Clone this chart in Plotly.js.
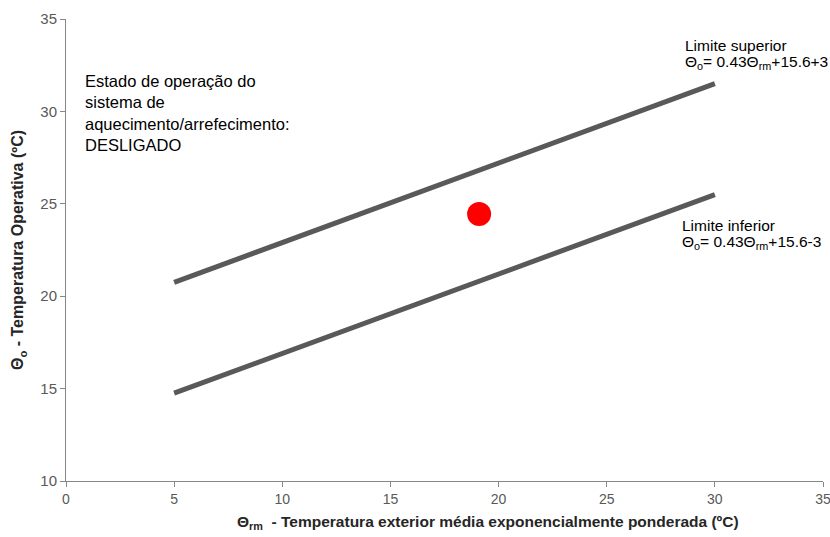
<!DOCTYPE html>
<html><head><meta charset="utf-8">
<script src="https://cdn.plot.ly/plotly-3.0.1.min.js"></script>
<style>body{margin:0;background:#fff}#c{width:830px;height:537px}</style>
</head><body><div id="c"></div>
<script>
const xLine = [5, 10, 15, 20, 25, 30];
const upperLimit = [20.75, 22.9, 25.05, 27.2, 29.35, 31.5];
const lowerLimit = [14.75, 16.9, 19.05, 21.2, 23.35, 25.5];
const pointX = [19.1];
const pointY = [24.45];
const xTicks = [0, 5, 10, 15, 20, 25, 30, 35];
const yTicks = [10, 15, 20, 25, 30, 35];

const font = "Liberation Sans, Arial, sans-serif";
const traces = [
  {x: xLine, y: upperLimit, mode: 'lines', line: {color: '#595959', width: 5}, hoverinfo: 'skip'},
  {x: xLine, y: lowerLimit, mode: 'lines', line: {color: '#595959', width: 5}, hoverinfo: 'skip'},
  {x: pointX, y: pointY, mode: 'markers', marker: {color: '#ff0000', size: 24}}
];
const ann = (x, y, text, size) => ({xref: 'paper', yref: 'paper', x: x, y: y, xanchor: 'left', yanchor: 'middle',
  align: 'left', showarrow: false, font: {size: size, color: '#000', family: font}, text: text});
const layout = {
  width: 830, height: 537, showlegend: false,
  paper_bgcolor: '#fff', plot_bgcolor: '#fff',
  margin: {l: 66, r: 7, t: 19, b: 56},
  font: {family: font, color: '#595959', size: 13},
  xaxis: {range: [0, 35], tickvals: xTicks, showgrid: false, zeroline: false, ticklabeloverflow: 'allow',
    showline: true, linecolor: '#868686', linewidth: 1, ticks: 'outside', ticklen: 5, tickcolor: '#868686',
    tickfont: {size: 14, color: '#595959'}},
  yaxis: {range: [10, 35], tickvals: yTicks, showgrid: false, zeroline: false,
    showline: true, linecolor: '#868686', linewidth: 1, ticks: 'outside', ticklen: 5, tickcolor: '#868686',
    tickfont: {size: 15, color: '#595959'},
    title: {text: '<b>Θ<sub>o</sub> - Temperatura Operativa (ºC)</b>',
      font: {size: 16, color: '#262626', family: font}, standoff: 12}},
  annotations: [
    {xref: 'paper', yref: 'paper', x: 0.022, y: 0.89, xanchor: 'left', yanchor: 'top', align: 'left',
      showarrow: false, font: {size: 16.5, color: '#000', family: font},
      text: 'Estado de operação do<br>sistema de<br>aquecimento/arrefecimento:<br>DESLIGADO'},
    ann(0.815, 0.9437, 'Limite superior', 15.5),
    ann(0.815, 0.9048, 'Θ<sub>o</sub>= 0.43Θ<sub>rm</sub>+15.6+3', 15.5),
    ann(0.811, 0.5541, 'Limite inferior', 15.5),
    ann(0.811, 0.5173, 'Θ<sub>o</sub>= 0.43Θ<sub>rm</sub>+15.6-3', 15.5),
    {xref: 'paper', yref: 'paper', x: 0.557, y: -0.089, xanchor: 'center', yanchor: 'middle',
      showarrow: false, font: {size: 15.5, color: '#262626', family: font},
      text: '<b>Θ<sub>rm</sub>  - Temperatura exterior média exponencialmente ponderada (ºC)</b>'}
  ]
};
Plotly.newPlot('c', traces, layout, {displayModeBar: false, staticPlot: true});
</script></body></html>
